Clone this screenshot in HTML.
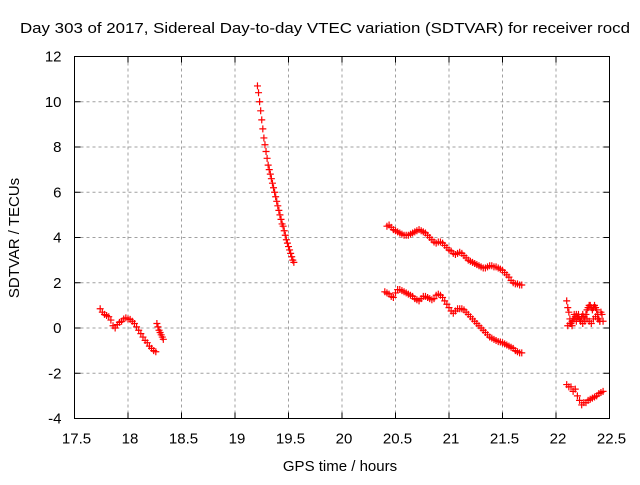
<!DOCTYPE html>
<html><head><meta charset="utf-8"><style>
body{margin:0;background:#fff;}
svg text{font-family:"Liberation Sans",sans-serif;fill:#000;}
</style></head><body>
<svg id="chart" width="640" height="480" xmlns="http://www.w3.org/2000/svg">
<text x="325" y="33" font-size="15" text-anchor="middle" textLength="610" lengthAdjust="spacingAndGlyphs">Day 303 of 2017, Sidereal Day-to-day VTEC variation (SDTVAR) for receiver rocd</text>
<text x="340" y="471" font-size="15" text-anchor="middle">GPS time / hours</text>
<text x="0" y="0" font-size="15" text-anchor="middle" transform="translate(19,238) rotate(-90)">SDTVAR / TECUs</text>
<g id="grid"></g>
<g id="ticks"></g>
<g id="marks"></g>
<rect x="74.5" y="56.5" width="535" height="362" fill="none" stroke="#000" stroke-width="1"/>
</svg>
<script>
const xTicks=[17.5,18,18.5,19,19.5,20,20.5,21,21.5,22,22.5];
const xTickLabels=["17.5","18","18.5","19","19.5","20","20.5","21","21.5","22","22.5"];
const yTicks=[-4,-2,0,2,4,6,8,10,12];
const yTickLabels=["-4","-2","0","2","4","6","8","10","12"];
const seg1X=[17.74,17.76,17.78,17.80,17.82,17.84,17.86,17.88,17.90,17.92,17.94,17.96,17.98,18.00,18.02,18.04,18.06,18.08,18.10,18.12,18.14,18.16,18.18,18.20,18.22,18.24,18.26];
const seg1Y=[0.85,0.7,0.6,0.55,0.5,0.35,0.1,0.0,0.15,0.25,0.3,0.4,0.45,0.4,0.38,0.3,0.2,0.05,-0.1,-0.25,-0.4,-0.55,-0.65,-0.8,-0.9,-1.0,-1.05];
const seg2X=[18.27,18.28,18.29,18.30,18.31,18.32,18.33];
const seg2Y=[0.2,0.05,-0.1,-0.2,-0.3,-0.4,-0.5];
const seg3X=[19.21,19.22,19.23,19.24,19.25,19.26,19.27,19.28,19.29,19.30,19.31,19.32,19.33,19.34,19.35,19.36,19.37,19.38,19.39,19.40,19.41,19.42,19.43,19.44,19.45,19.46,19.47,19.48,19.49,19.50,19.51,19.52,19.53,19.54,19.55];
const seg3Y=[10.7,10.4,10.0,9.6,9.2,8.8,8.4,8.1,7.8,7.5,7.2,7.0,6.8,6.6,6.4,6.2,6.0,5.8,5.6,5.4,5.2,5.0,4.8,4.6,4.5,4.3,4.1,3.9,3.75,3.6,3.45,3.3,3.15,3.0,2.9];
const upperX=[20.42,20.44,20.46,20.48,20.50,20.52,20.54,20.56,20.58,20.60,20.62,20.64,20.66,20.68,20.70,20.72,20.74,20.76,20.78,20.80,20.82,20.84,20.86,20.88,20.90,20.92,20.94,20.96,20.98,21.00,21.02,21.04,21.06,21.08,21.10,21.12,21.14,21.16,21.18,21.20,21.22,21.24,21.26,21.28,21.30,21.32,21.34,21.36,21.38,21.40,21.42,21.44,21.46,21.48,21.50,21.52,21.54,21.56,21.58,21.60,21.62,21.64,21.66,21.68];
const upperY=[4.5,4.55,4.45,4.35,4.3,4.25,4.2,4.15,4.1,4.1,4.1,4.15,4.2,4.25,4.3,4.35,4.3,4.25,4.2,4.1,4.0,3.9,3.8,3.75,3.8,3.8,3.75,3.65,3.55,3.45,3.4,3.3,3.25,3.3,3.35,3.3,3.2,3.1,3.0,2.95,2.9,2.85,2.8,2.75,2.7,2.65,2.65,2.7,2.75,2.75,2.7,2.7,2.65,2.6,2.55,2.45,2.35,2.25,2.1,2.0,1.95,1.95,1.9,1.9];
const lowerX=[20.40,20.42,20.44,20.46,20.48,20.50,20.52,20.54,20.56,20.58,20.60,20.62,20.64,20.66,20.68,20.70,20.72,20.74,20.76,20.78,20.80,20.82,20.84,20.86,20.88,20.90,20.92,20.94,20.96,20.98,21.00,21.02,21.04,21.06,21.08,21.10,21.12,21.14,21.16,21.18,21.20,21.22,21.24,21.26,21.28,21.30,21.32,21.34,21.36,21.38,21.40,21.42,21.44,21.46,21.48,21.50,21.52,21.54,21.56,21.58,21.60,21.62,21.64,21.66,21.68];
const lowerY=[1.6,1.55,1.5,1.4,1.35,1.55,1.7,1.7,1.65,1.6,1.55,1.5,1.45,1.4,1.3,1.25,1.2,1.3,1.4,1.4,1.35,1.3,1.25,1.3,1.45,1.5,1.45,1.35,1.2,1.05,0.9,0.75,0.65,0.75,0.85,0.85,0.85,0.8,0.7,0.6,0.5,0.4,0.3,0.2,0.1,0.0,-0.1,-0.2,-0.3,-0.4,-0.45,-0.5,-0.55,-0.6,-0.62,-0.65,-0.7,-0.75,-0.8,-0.85,-0.9,-1.0,-1.05,-1.1,-1.1];
const rightAX=[22.10,22.11,22.12,22.13,22.14,22.15,22.16,22.17,22.18,22.19,22.20,22.21,22.22,22.23,22.24,22.25,22.26,22.27,22.28,22.29,22.30,22.31,22.32,22.33,22.34,22.35,22.36,22.37,22.38,22.39,22.40,22.41,22.42,22.43,22.44];
const rightAY=[1.2,0.9,0.7,0.4,0.2,0.1,0.4,0.6,0.5,0.3,0.5,0.6,0.4,0.3,0.5,0.6,0.5,0.4,0.6,0.8,0.9,1.0,1.0,0.9,0.8,0.9,1.0,0.9,0.8,0.6,0.4,0.3,0.7,0.6,0.3];
const rightBX=[22.11,22.13,22.15,22.17,22.19,22.21,22.23,22.25,22.27,22.29,22.31,22.33,22.35,22.37,22.39,22.41];
const rightBY=[0.1,0.2,0.3,0.4,0.6,0.5,0.3,0.2,0.3,0.4,0.3,0.2,0.4,0.5,0.4,0.3];
const rightCX=[22.10,22.12,22.14,22.16,22.18,22.20,22.22,22.24,22.26,22.28,22.30,22.32,22.34,22.36,22.38,22.40,22.42,22.44];
const rightCY=[-2.5,-2.6,-2.6,-2.8,-2.7,-3.0,-3.2,-3.4,-3.3,-3.3,-3.2,-3.15,-3.1,-3.05,-3.0,-2.9,-2.85,-2.8];

const X0=74.5,X1=609.5,Y0=418.5,Y1=56.5;
function sx(h){return X0+(h-17.5)/5*(X1-X0);}
function sy(v){return Y0-(v+4)/16*(Y0-Y1);}
const NS="http://www.w3.org/2000/svg";
const grid=document.getElementById('grid'),ticks=document.getElementById('ticks'),marks=document.getElementById('marks');
function mk(tag,attrs,parent){const e=document.createElementNS(NS,tag);for(const k in attrs)e.setAttribute(k,attrs[k]);parent.appendChild(e);return e;}
xTicks.forEach((t,i)=>{
  const x=sx(t);
  if(i>0&&i<xTicks.length-1){const g=mk('line',{x1:x,x2:x,y1:Y1,y2:Y0,stroke:'#a0a0a0','stroke-dasharray':'3,3'},grid);
  
  }
  mk('line',{x1:x,x2:x,y1:Y0,y2:Y0-6,stroke:'#000'},ticks);
  mk('line',{x1:x,x2:x,y1:Y1,y2:Y1+6,stroke:'#000'},ticks);
  const tx=mk('text',{x:x+2,y:Y0+25,'font-size':'15','text-anchor':'middle'},ticks);
  tx.textContent=xTickLabels[i];
  
  
});
yTicks.forEach((t,i)=>{
  const y=sy(t);
  if(i>0&&i<yTicks.length-1){const g=mk('line',{x1:X0,x2:X1,y1:y,y2:y,stroke:'#a0a0a0','stroke-dasharray':'3,3'},grid);
  
  }
  mk('line',{x1:X0,x2:X0+6,y1:y,y2:y,stroke:'#000'},ticks);
  mk('line',{x1:X1,x2:X1-6,y1:y,y2:y,stroke:'#000'},ticks);
  const tx=mk('text',{x:X0-13,y:y+5,'font-size':'15','text-anchor':'end'},ticks);
  tx.textContent=yTickLabels[i];
  
  
});
function drawSeries(xs,ys,name){
  xs.forEach((h,i)=>{
    const x=sx(h),y=sy(ys[i]);
    const p=mk('path',{d:`M${x-3.5},${y}H${x+3.5}M${x},${y-3.5}V${y+3.5}`,stroke:'#ff0000','stroke-width':'1.2',fill:'none'},marks);
    
    
  });
}
drawSeries(seg1X,seg1Y,'point-segment-1');
drawSeries(seg2X,seg2Y,'point-segment-2');
drawSeries(seg3X,seg3Y,'point-segment-3');
drawSeries(upperX,upperY,'point-upper-track');
drawSeries(lowerX,lowerY,'point-lower-track');
drawSeries(rightAX,rightAY,'point-right-cluster');
drawSeries(rightBX,rightBY,'point-right-cluster');
drawSeries(rightCX,rightCY,'point-right-low');
</script>
</body></html>
